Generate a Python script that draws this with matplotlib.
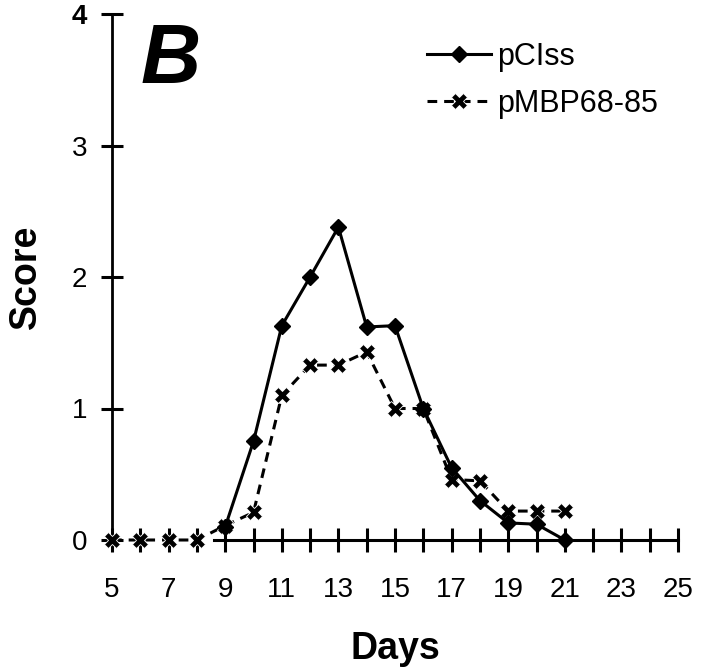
import matplotlib
matplotlib.use("Agg")
import matplotlib.pyplot as plt
import numpy as np

plt.rcParams.update({
    "font.family": ["Liberation Sans", "DejaVu Sans"],
    "lines.scale_dashes": False,
})

# Data
days_pciss = [9, 10, 11, 12, 13, 14, 15, 16, 17, 18, 19, 20, 21]
score_pciss = [0.1, 0.75, 1.63, 2.0, 2.38, 1.62, 1.63, 1.0, 0.55, 0.3, 0.13, 0.12, 0.0]

days_pmbp = [5, 6, 7, 8, 9, 10, 11, 12, 13, 14, 15, 16, 17, 18, 19, 20, 21]
score_pmbp = [0, 0, 0, 0, 0.11, 0.21, 1.1, 1.33, 1.33, 1.43, 1.0, 1.0, 0.46, 0.45, 0.22, 0.22, 0.22]

x_labels = [5, 7, 9, 11, 13, 15, 17, 19, 21, 23, 25]
y_ticks = [0, 1, 2, 3, 4]

fig = plt.figure(figsize=(7.2, 6.72), dpi=100)
ax = fig.add_axes([112/720, 1 - 540/672, (678 - 112)/720, (540 - 14)/672])

ax.plot(days_pmbp, score_pmbp, color="black", lw=2.2, ls=(0, (7, 5)),
        marker="X", ms=12, mec="white", mew=0.6, mfc="black",
        clip_on=False, zorder=3, label="pMBP68-85")
ax.plot(days_pciss, score_pciss, color="black", lw=2.2, ls="-",
        marker="D", ms=8, mec="black", mfc="black",
        clip_on=False, zorder=4, label="pCIss")

ax.set_xlim(5, 25)
ax.set_ylim(0, 4)

for s in ["top", "right"]:
    ax.spines[s].set_visible(False)
ax.spines["left"].set_linewidth(2)
ax.spines["bottom"].set_linewidth(2.2)
ax.spines["left"].set_bounds(0, 4)
ax.spines["bottom"].set_bounds(8.6, 25)

ax.set_xticks(x_labels)
ax.set_xticks(np.arange(6, 25, 2), minor=True)
ax.set_xticklabels([str(v) for v in x_labels], fontsize=20)
ax.set_yticks(y_ticks)
ax.set_yticklabels([str(v) for v in y_ticks], fontsize=20)
ax.get_yticklabels()[-1].set_fontweight("bold")

ax.tick_params(axis="x", which="both", direction="inout", length=17, width=2.2, pad=18)
ax.tick_params(axis="y", which="both", direction="inout", length=16, width=2.2, pad=10)

ax.set_xlabel("Days", fontsize=27, fontweight="bold", labelpad=20)
ax.set_ylabel("Score", fontsize=27, fontweight="bold", labelpad=20)

ax.text(0.05, 0.985, "B", transform=ax.transAxes, fontsize=60,
        fontweight="bold", fontstyle="italic", ha="left", va="top")

handles, labels = ax.get_legend_handles_labels()
leg = ax.legend(handles[::-1], labels[::-1], loc="upper left",
                bbox_to_anchor=(427/720, 1 - 42/672), bbox_transform=fig.transFigure,
                frameon=False, fontsize=22, handlelength=2.1, handletextpad=0.2,
                labelspacing=0.55, borderpad=0, borderaxespad=0)

fig.savefig("out.png", dpi=100)
